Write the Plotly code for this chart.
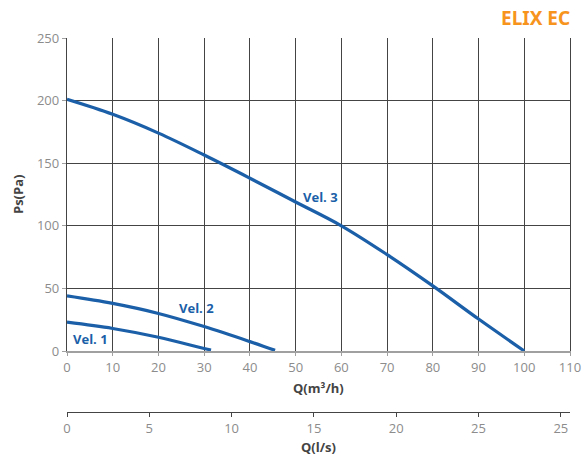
import plotly.graph_objects as go

# Data (Q in m3/h, Ps in Pa)
q_vel3 = [0, 10, 20, 30, 40, 50, 60, 70, 80, 90, 100]
p_vel3 = [201, 189, 174, 156.5, 138, 119, 100, 77, 52, 25.5, 0]
q_vel2 = [0, 10, 20, 30, 40, 45.5]
p_vel2 = [44, 38, 30, 19.5, 7.5, 0.5]
q_vel1 = [0, 10, 20, 30, 31.5]
p_vel1 = [23, 18, 11, 2, 0.8]

labels = ["Vel. 1", "Vel. 2", "Vel. 3"]
label_x = [5.2, 28.4, 55.5]
label_y = [9.3, 34.3, 123]

x_ticks = [0, 10, 20, 30, 40, 50, 60, 70, 80, 90, 100, 110]
y_ticks = [0, 50, 100, 150, 200, 250]
ls_tickvals = [0, 5, 10, 15, 20, 25, 30]
ls_ticktext = ["0", "5", "10", "15", "20", "25", "25"]

BLUE = "#1b5fa8"
GRID = "#444444"
TICKC = "#8c8c8c"
TITLEC = "#444444"
FONT = "Open Sans"

W, H = 582, 459
plot_left, plot_right = 67, 570
plot_top, plot_bottom, paper_bottom = 38, 351, 412
paper_h = paper_bottom - plot_top
paper_w = plot_right - plot_left
dom0 = (paper_bottom - plot_bottom) / paper_h

fig = go.Figure()
for q, p in [(q_vel3, p_vel3), (q_vel2, p_vel2), (q_vel1, p_vel1)]:
    fig.add_trace(go.Scatter(x=q, y=p, mode="lines",
                             line=dict(color=BLUE, width=3.2, shape="spline"),
                             showlegend=False, hoverinfo="skip"))

for t, x, y in zip(labels, label_x, label_y):
    fig.add_annotation(x=x, y=y, xref="x", yref="y", text="<b>%s</b>" % t,
                       xanchor="center", yanchor="middle",
                       showarrow=False, font=dict(family=FONT, size=13, color=BLUE))

fig.update_layout(
    width=W, height=H,
    margin=dict(l=plot_left, r=W - plot_right, t=plot_top,
                b=H - paper_bottom, autoexpand=False),
    paper_bgcolor="white", plot_bgcolor="white",
    font=dict(family=FONT, color=TICKC, size=13),
    xaxis=dict(range=[0, 110], tickvals=x_ticks, showgrid=True,
               gridcolor=GRID, gridwidth=1.3, showline=True, linecolor="#a0a0a0",
               linewidth=2, ticks="outside", tickcolor="#a0a0a0", ticklen=3,
               zeroline=False, anchor="y",
               tickfont=dict(family=FONT, size=13, color=TICKC)),
    yaxis=dict(range=[0, 250], tickvals=y_ticks, domain=[dom0, 1],
               showgrid=True, gridcolor=GRID, gridwidth=1.3, showline=True,
               linecolor=GRID, linewidth=1.3, mirror=True, ticks="outside",
               tickcolor="#a0a0a0", ticklen=4, zeroline=False,
               tickfont=dict(family=FONT, size=13, color=TICKC)),
    xaxis2=dict(range=[0, 110 / 3.6], overlaying="x", anchor="free", position=0,
                side="bottom", tickvals=ls_tickvals, ticktext=ls_ticktext,
                showgrid=False, showline=True, linecolor=GRID, linewidth=1,
                ticks="outside", tickcolor=GRID, ticklen=4, zeroline=False,
                tickfont=dict(family=FONT, size=13, color=TICKC)),
)

# invisible trace to activate xaxis2
fig.add_trace(go.Scatter(x=[0], y=[0], xaxis="x2", yaxis="y", mode="markers",
                         marker=dict(opacity=0), showlegend=False, hoverinfo="skip"))

def py(ypx):
    return (paper_bottom - ypx) / paper_h

def pxx(xpx):
    return (xpx - plot_left) / paper_w

fig.add_annotation(x=pxx(318), y=py(388), xref="paper", yref="paper",
                   xanchor="center", yanchor="middle",
                   text="<b>Q(m³/h)</b>", showarrow=False,
                   font=dict(family=FONT, size=13, color=TITLEC))
fig.add_annotation(x=pxx(318), y=py(447), xref="paper", yref="paper",
                   xanchor="center", yanchor="middle",
                   text="<b>Q(l/s)</b>", showarrow=False,
                   font=dict(family=FONT, size=13, color=TITLEC))
fig.add_annotation(x=pxx(18), y=py(195), xref="paper", yref="paper",
                   xanchor="center", yanchor="middle",
                   text="<b>Ps(Pa)</b>", showarrow=False, textangle=-90,
                   font=dict(family=FONT, size=13, color=TITLEC))
fig.add_annotation(x=pxx(572), y=py(18), xref="paper", yref="paper",
                   xanchor="right", yanchor="middle", text="<b>ELIX EC</b>", showarrow=False,
                   font=dict(family="Liberation Sans Narrow, Noto Sans", size=19, color="#f7941d"))

fig.write_html("out.html", config={"displayModeBar": False},
               post_script="document.body.style.margin='0';document.body.style.overflow='hidden';")
